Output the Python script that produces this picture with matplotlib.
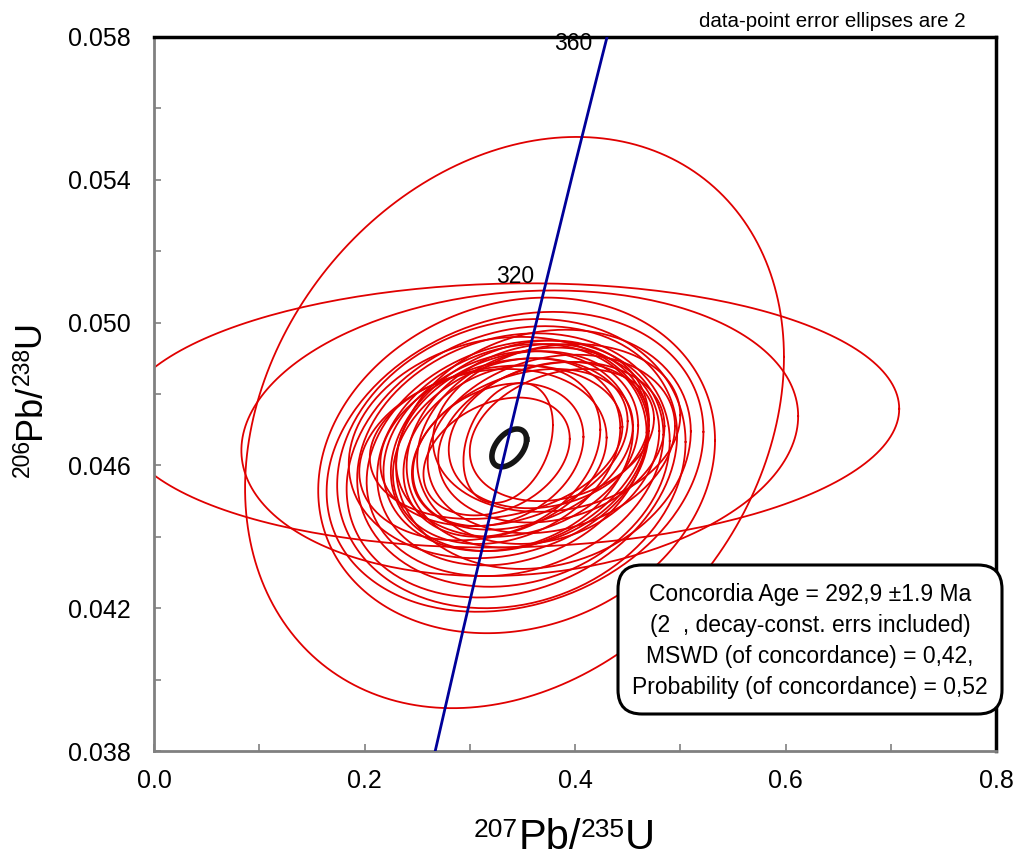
import numpy as np
import matplotlib
matplotlib.use("Agg")
import matplotlib.pyplot as plt
from matplotlib.patches import FancyBboxPatch
from matplotlib.transforms import IdentityTransform

plt.rcParams['font.family'] = ['Liberation Sans', 'DejaVu Sans']

# concordia curve (ages in Ma) and its 207Pb/235U, 206Pb/238U ratios
conc_age = [240, 260, 280, 300, 320, 340, 360, 380]
conc_x = [0.26663, 0.29183, 0.31753, 0.34374, 0.37047, 0.39773, 0.42553, 0.45389]
conc_y = [0.03793, 0.04116, 0.04439, 0.04764, 0.05089, 0.05416, 0.05743, 0.06072]
labelled_ages = [320, 360]

# spot analyses: 207/235, 2s, 206/238, 2s, error correlation
pb207_u235 = [0.3425, 0.338, 0.3475,
              0.3445, 0.343, 0.3395, 0.340, 0.3415, 0.343, 0.340, 0.3365, 0.335,
              0.3305, 0.327, 0.3255, 0.3365,
              0.355, 0.365, 0.345, 0.3775, 0.3325, 0.3775, 0.325, 0.3825,
              0.3475, 0.375, 0.3125, 0.350, 0.3875, 0.3275, 0.370]
err207 = [0.256, 0.370, 0.2645,
          0.1885, 0.179, 0.1655, 0.157, 0.1485, 0.141, 0.128, 0.1185, 0.108,
          0.0935, 0.081, 0.0695, 0.0425,
          0.115, 0.115, 0.115, 0.1175, 0.1175, 0.1075, 0.120, 0.1175,
          0.1225, 0.095, 0.1175, 0.105, 0.0875, 0.1425, 0.140]
pb206_u238 = [0.0472, 0.0474, 0.0469,
              0.0460, 0.0461, 0.04605, 0.0461, 0.04615, 0.0462, 0.0463, 0.0464, 0.0464,
              0.0464, 0.0463, 0.04625, 0.04663,
              0.04655, 0.04655, 0.0466, 0.0466, 0.04665, 0.04665, 0.04665, 0.04705,
              0.04655, 0.04685, 0.0463, 0.04645, 0.04685, 0.0465, 0.04645]
err206 = [0.0080, 0.0037, 0.0040,
          0.0047, 0.0042, 0.00405, 0.0038, 0.00355, 0.0033, 0.0031, 0.0028, 0.0026,
          0.0024, 0.0020, 0.00165, 0.00168,
          0.00285, 0.00275, 0.0026, 0.0025, 0.00235, 0.00225, 0.00215, 0.00235,
          0.00295, 0.00205, 0.0024, 0.00225, 0.00185, 0.0031, 0.00335]
rho = [0.23, 0.05, 0.12,
       0.15, 0.20, 0.15, 0.20, 0.15, 0.20, 0.20, 0.20, 0.25,
       0.25, 0.25, 0.30, 0.30,
       0.20, 0.15, 0.20, 0.20, 0.25, 0.20, 0.20, 0.15,
       0.25, 0.20, 0.20, 0.30, 0.25, 0.15, 0.15]

# concordia age ellipse
age_x, age_xerr = 0.3375, 0.0165
age_y, age_yerr = 0.04649, 0.00053
age_rho = 0.45

box_lines = ["Concordia Age = 292,9 \u00b11.9 Ma",
             "(2  , decay-const. errs included)",
             "MSWD (of concordance) = 0,42,",
             "Probability (of concordance) = 0,52"]


def ellipse_xy(cx, sx, cy, sy, r, n=240):
    t = np.linspace(0, 2 * np.pi, n)
    x = cx + sx * np.cos(t)
    y = cy + sy * (r * np.cos(t) + np.sqrt(1 - r ** 2) * np.sin(t))
    return x, y


def stacked_label(ax, pieces, start, base, vertical=False):
    # pieces: (text, size, lift in px); start/base in figure pixels
    prev = None
    for s, size, lift in pieces:
        desc = 0.212 * size * 100 / 72
        if not vertical:
            off = base + lift - desc
            xy = (start, off) if prev is None else (1, off)
            coords = 'figure pixels' if prev is None else (prev, 'figure pixels')
            kw = dict(ha='left', va='bottom')
        else:
            off = base - lift + desc
            xy = (off, start) if prev is None else (off, 1)
            coords = 'figure pixels' if prev is None else ('figure pixels', prev)
            kw = dict(ha='right', va='bottom', rotation=90)
        prev = ax.annotate(s, xy=xy, xycoords=coords, fontsize=size,
                           annotation_clip=False, **kw)


fig = plt.figure(figsize=(10.2, 8.58), dpi=100)
ax = fig.add_axes([0.151, 0.1247, 0.8255, 0.8322])

for cx, sx, cy, sy, r in zip(pb207_u235, err207, pb206_u238, err206, rho):
    ex, ey = ellipse_xy(cx, sx, cy, sy, r)
    ax.plot(ex, ey, color='#e00000', lw=1.3, zorder=2)

ex, ey = ellipse_xy(age_x, age_xerr, age_y, age_yerr, age_rho)
ax.plot(ex, ey, color='#151515', lw=4, zorder=3)

ax.plot(conc_x, conc_y, color='#000099', lw=2.0, zorder=4)
for a in labelled_ages:
    i = conc_age.index(a)
    ax.annotate(str(a), xy=(conc_x[i], conc_y[i]), xytext=(-7, 10),
                textcoords='offset points', ha='right', va='center',
                fontsize=16.5, zorder=5)

ax.set_xlim(0.0, 0.8)
ax.set_ylim(0.038, 0.058)
ax.set_xticks(np.arange(0.0, 0.81, 0.2))
ax.set_xticks(np.arange(0.1, 0.8, 0.2), minor=True)
ax.set_yticks(np.arange(0.038, 0.0581, 0.004))
ax.set_yticks(np.arange(0.040, 0.058, 0.004), minor=True)
ax.set_xticklabels([f"{v:.1f}" for v in np.arange(0.0, 0.81, 0.2)])
ax.set_yticklabels([f"{v:.3f}" for v in np.arange(0.038, 0.0581, 0.004)])
ax.tick_params(which='both', direction='in', length=5, width=1.2,
               color='#808080', labelsize=18)
ax.tick_params(axis='x', pad=13)
ax.tick_params(axis='y', pad=17)

for side in ['left', 'bottom']:
    ax.spines[side].set_color('#808080')
    ax.spines[side].set_linewidth(2)
for side in ['top', 'right']:
    ax.spines[side].set_color('black')
    ax.spines[side].set_linewidth(2.5)

stacked_label(ax, [('207', 19, 13), ('Pb/', 30, 0), ('235', 19, 13), ('U', 30, 0)],
              start=474, base=9)
stacked_label(ax, [('206', 16.5, 11), ('Pb/', 26, 0), ('238', 16.5, 11), ('U', 26, 0)],
              start=381, base=40, vertical=True)

fig.text(966 / 1020, 831 / 858, "data-point error ellipses are 2",
         ha='right', va='baseline', fontsize=14.8)

box = FancyBboxPatch((618, 858 - 714), 384, 149,
                     boxstyle='round,pad=0,rounding_size=24',
                     transform=IdentityTransform(), facecolor='white',
                     edgecolor='black', lw=2.2, zorder=10)
fig.add_artist(box)
for k, line in enumerate(box_lines):
    fig.text(810 / 1020, (858 - (595 + 30.7 * k)) / 858, line,
             ha='center', va='center', fontsize=16.5, zorder=11)

fig.savefig('out.png', dpi=100)
